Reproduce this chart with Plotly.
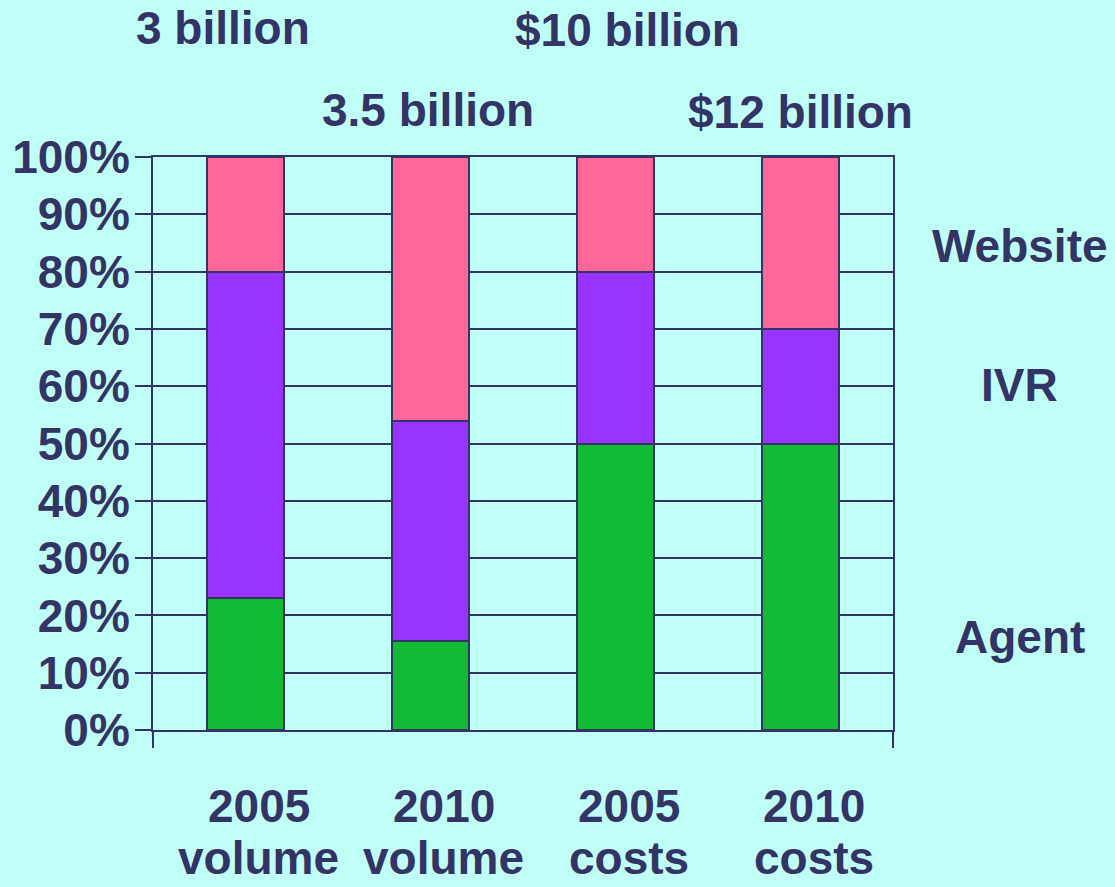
import plotly.graph_objects as go

# Stacked share of contacts by channel, volume vs. costs
years = ["2005", "2010", "2005", "2010"]
measures = ["volume", "volume", "costs", "costs"]
agent = [23, 15.5, 50, 50]
ivr = [57, 38.5, 30, 20]
website = [20, 46, 20, 30]
totals_row1 = ["3 billion", "$10 billion"]
totals_row2 = ["3.5 billion", "$12 billion"]
series_names = ["Agent", "IVR", "Website"]

INK = "#333366"
BG = "#BFFFF7"
COLORS = ["#11BB33", "#9933FF", "#FF6699"]
FONT = "Liberation Sans, Arial, sans-serif"

W, H = 1115, 887
L, R, T, B = 153, 893, 157, 730


def px(x):
    return (x - L) / (R - L)


def py(y):
    return (B - y) / (B - T)


xs = list(range(len(years)))
fig = go.Figure()
for name, vals, col in zip(series_names, [agent, ivr, website], COLORS):
    fig.add_trace(go.Bar(
        x=xs, y=vals, name=name, width=0.415,
        marker=dict(color=col, line=dict(color=INK, width=2)),
        hoverinfo="skip",
    ))

ann = []
bold = dict(family=FONT, size=46, color=INK, weight="bold")
# totals above the columns
for txt, (cx, cy) in zip(totals_row1 + totals_row2,
                         [(223, 28), (627, 30), (428, 110), (800, 112)]):
    ann.append(dict(text=txt, x=px(cx), y=py(cy), xref="paper", yref="paper",
                    xanchor="center", yanchor="middle", showarrow=False, font=bold))
# channel labels on the right
for txt, cy in zip(series_names, [637, 385, 246]):
    ann.append(dict(text=txt, x=px(1020), y=py(cy), xref="paper", yref="paper",
                    xanchor="center", yanchor="middle", showarrow=False, font=bold))
# two-line category labels under the axis
for i, (yr, ms) in enumerate(zip(years, measures)):
    for txt, cy in [(yr, 806), (ms, 858)]:
        ann.append(dict(text=txt, x=i, xref="x", y=py(cy), yref="paper",
                        xshift=13, xanchor="center", yanchor="middle",
                        showarrow=False, font=bold))

fig.update_layout(
    width=W, height=H,
    barmode="stack",
    showlegend=False,
    paper_bgcolor=BG, plot_bgcolor=BG,
    margin=dict(l=L, r=W - R, t=T, b=H - B, pad=0, autoexpand=False),
    font=dict(family=FONT, color=INK),
    annotations=ann,
    bargap=0,
    xaxis=dict(
        range=[-0.5, 3.5], tickvals=[-0.5, 3.5], ticktext=["", ""],
        ticks="outside", ticklen=16, tickwidth=2, tickcolor=INK,
        showgrid=False, zeroline=False, automargin=False,
        showline=True, linecolor=INK, linewidth=2, mirror=True,
    ),
    yaxis=dict(
        range=[0, 100], dtick=10, ticksuffix="%",
        ticks="outside", ticklen=16, tickwidth=2, tickcolor=INK,
        tickfont=dict(family=FONT, size=46, color=INK, weight="bold"),
        ticklabelstandoff=-4, automargin=False,
        showgrid=True, gridcolor=INK, gridwidth=2,
        zeroline=False,
        showline=True, linecolor=INK, linewidth=2, mirror=True,
    ),
)

fig.write_html("out.html")
